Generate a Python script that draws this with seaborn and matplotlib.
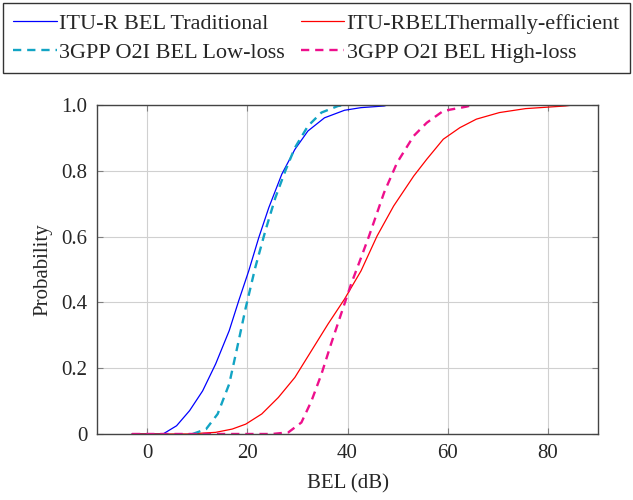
import matplotlib
matplotlib.use("Agg")
import matplotlib.pyplot as plt
import seaborn as sns
import pandas as pd

# BEL (dB) / probability points
trad_x = [-3, 3.2, 5.9, 8.5, 11.1, 13.7, 16.4, 18.3, 20.3, 22.3, 24.3, 26.9, 29.5,
          32.1, 35.4, 39.4, 42.7, 47.3, 48]
trad_y = [0, 0, 0.025, 0.071, 0.131, 0.213, 0.314, 0.405, 0.496, 0.597, 0.688, 0.79,
          0.865, 0.921, 0.961, 0.984, 0.992, 0.997, 1.0]

therm_x = [-3, 8, 13.7, 17, 19.7, 22.9, 26.2, 29.5, 32.8, 36.1, 39.4, 42.7, 45.9,
           49.2, 53.2, 55.8, 59.1, 62.4, 65.7, 70.3, 75.5, 83.4, 85]
therm_y = [0, 0, 0.005, 0.015, 0.030, 0.061, 0.111, 0.172, 0.253, 0.334, 0.41, 0.496,
           0.602, 0.693, 0.784, 0.835, 0.896, 0.931, 0.957, 0.977, 0.989, 0.997, 1.0]

low_x = [9.1, 11.8, 14.1, 16.4, 18.0, 19.7, 21.6, 23.6, 25.6, 27.6, 29.5, 32.1,
         34.8, 38.1, 39.5]
low_y = [0, 0.015, 0.061, 0.152, 0.263, 0.384, 0.506, 0.617, 0.718, 0.80, 0.87,
         0.936, 0.977, 0.997, 1.0]

high_x = [-3, 24.9, 28.2, 30.8, 32.8, 34.8, 36.7, 38.7, 40.7, 42.7, 44.3, 47.3,
          49.9, 53.2, 55.8, 59.1, 63.7, 65]
high_y = [0, 0, 0.005, 0.035, 0.10, 0.182, 0.273, 0.364, 0.455, 0.536, 0.602, 0.734,
          0.825, 0.906, 0.946, 0.982, 0.995, 1.0]

labels = ["ITU-R BEL Traditional", "ITU-RBELThermally-efficient",
          "3GPP O2I BEL Low-loss", "3GPP O2I BEL High-loss"]

sns.set_style("white")
plt.rcParams["font.family"] = ["Liberation Serif", "DejaVu Serif"]

fig = plt.figure(figsize=(6.33, 5), dpi=100)
ax = fig.add_axes([0.153, 0.132, 0.792, 0.658])

series = [
    (trad_x, trad_y, labels[0], "#0000ff", "-"),
    (therm_x, therm_y, labels[1], "#ff0000", "-"),
    (low_x, low_y, labels[2], "#12a4c4", (0, (3.5, 2.5))),
    (high_x, high_y, labels[3], "#ee0f8c", (0, (3.5, 2.5))),
]
for xs, ys, lab, col, ls in series:
    df = pd.DataFrame({"BEL": xs, "p": ys})
    lw = 0.9 if ls == "-" else 1.7
    sns.lineplot(data=df, x="BEL", y="p", ax=ax, color=col, linestyle=ls,
                 linewidth=lw, label=lab, legend=False)

ax.set_xlim(-10, 90)
ax.set_ylim(0, 1)
ax.set_xticks([0, 20, 40, 60, 80])
ax.set_yticks([0, 0.2, 0.4, 0.6, 0.8, 1.0])
ax.set_yticklabels(["0", "0.2", "0.4", "0.6", "0.8", "1.0"])
ax.grid(True, color="#d0d0d0", linewidth=0.8)
ax.tick_params(direction="in", length=4, color="#808080", labelsize=15,
               top=True, right=True, bottom=True, left=True, pad=7)
for sp in ax.spines.values():
    sp.set_color("#444444")
    sp.set_linewidth(1.0)
ax.set_xlabel("BEL (dB)", fontsize=15, labelpad=8)
ax.set_ylabel("Probability", fontsize=15, labelpad=6)

# legend is filled row by row in the reference
handles, labs = ax.get_legend_handles_labels()
order = [0, 2, 1, 3]
leg = fig.legend([handles[i] for i in order], [labs[i] for i in order], ncol=2,
                 loc="upper center", bbox_to_anchor=(0.5, 0.994),
                 fontsize=16, frameon=True, fancybox=False,
                 handlelength=1.95, handletextpad=0.12, borderpad=0.45,
                 labelspacing=0.4, columnspacing=0.7, borderaxespad=0)
leg.get_frame().set_edgecolor("black")
leg.get_frame().set_linewidth(1.0)

fig.savefig("out.png", dpi=100)
